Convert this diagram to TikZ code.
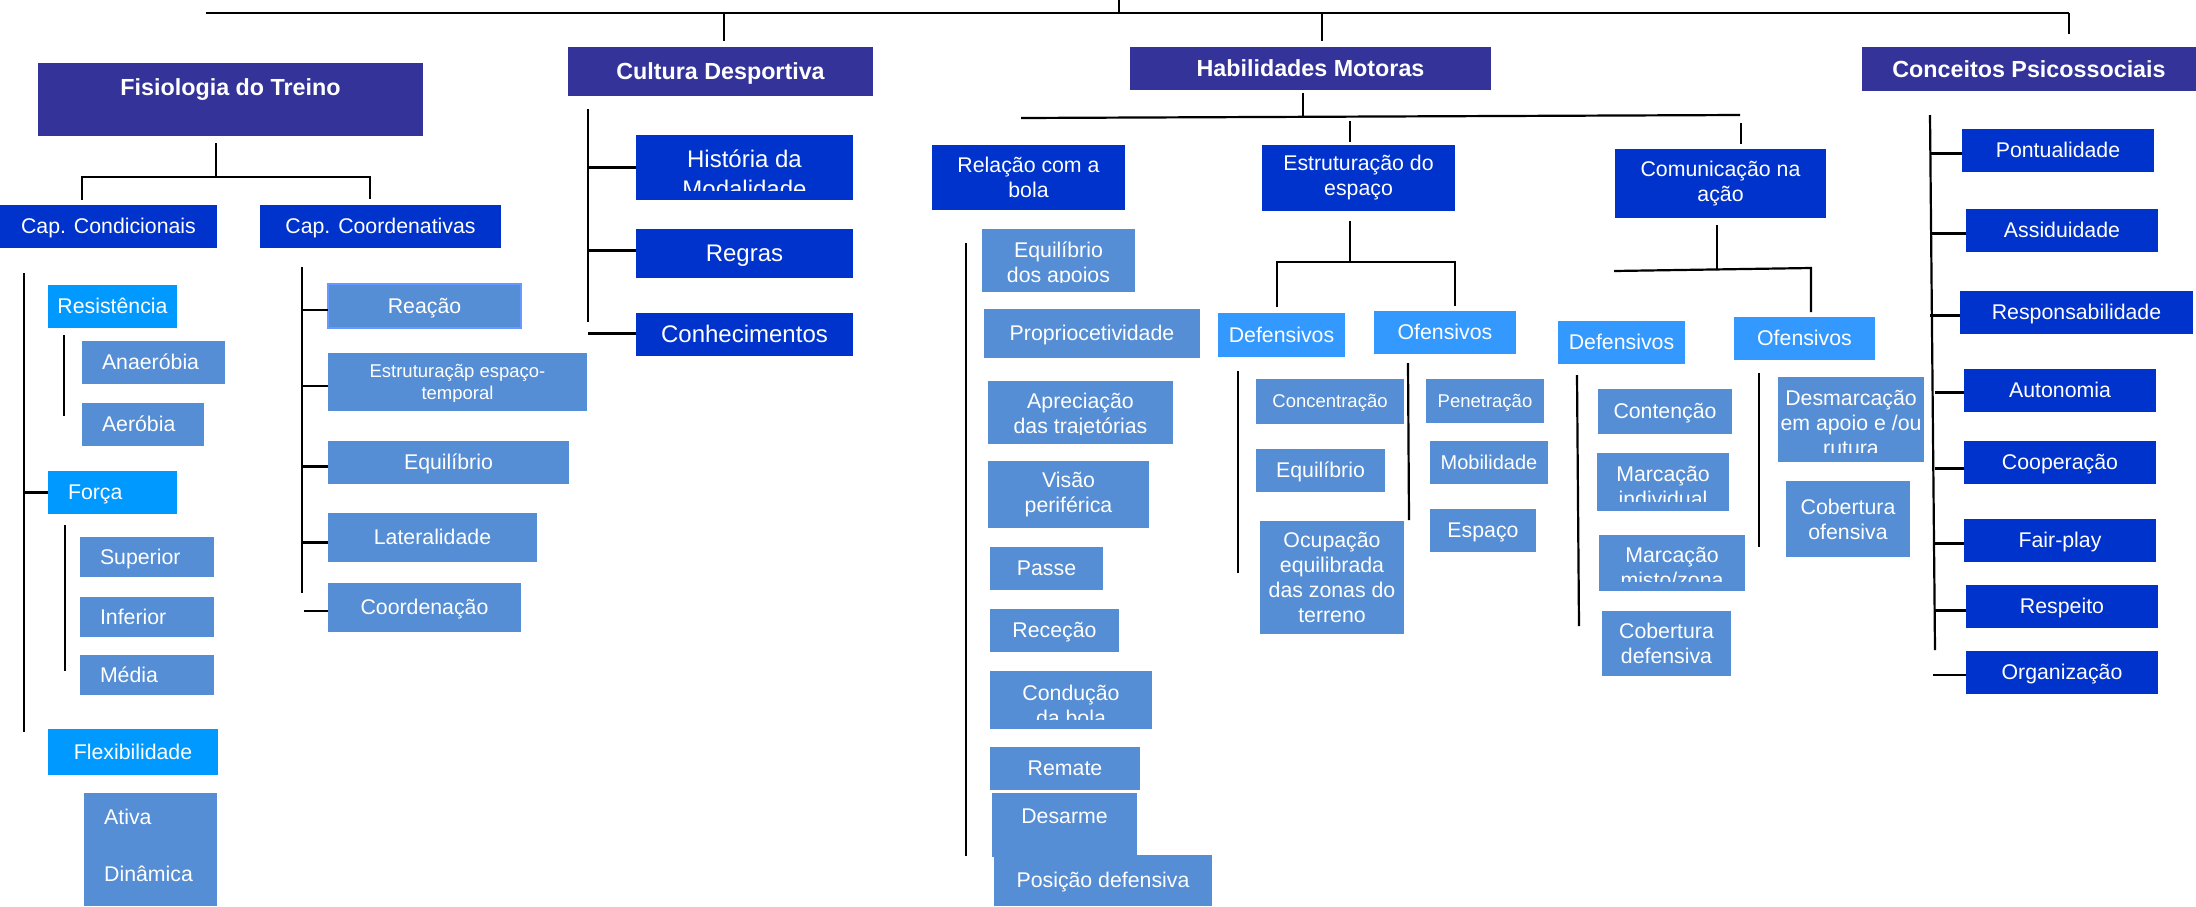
\documentclass[tikz,border=0pt]{standalone}
\usepackage{fontspec}
\setmainfont{Liberation Sans}
\definecolor{cIndigo}{RGB}{51,51,153}
\definecolor{cDark}{RGB}{0,51,204}
\definecolor{cBright}{RGB}{0,153,255}
\definecolor{cSide}{RGB}{51,153,255}
\definecolor{cLeaf}{RGB}{85,142,213}
\definecolor{cEdge}{RGB}{102,153,255}
\newcommand\myfs[2]{\fontsize{#1}{#2}\selectfont}
\newcommand\cliptext[4]{%
  \begin{scope}
    \clip (#1.north west) rectangle ([yshift=10pt]#1.south east);
    \node[ctxt, font={#2}, yshift=-#3pt] (#1-t) at (#1.center) {#4};
  \end{scope}}
\begin{document}
\begin{tikzpicture}[x=1pt,y=-1pt,
  base/.style={anchor=north west, inner sep=0pt, outer sep=0pt, text=white, align=center},
  topbox/.style={base, fill=cIndigo, font=\bfseries\myfs{23.3}{28}, text height=21pt, text depth=5pt},
  midbox/.style={base, fill=cDark, font=\myfs{21.3}{25}, text height=19.3pt, text depth=4.5pt},
  bigbox/.style={base, fill=cDark, font=\myfs{24}{30}, text height=21.7pt, text depth=5.1pt},
  brightbox/.style={base, fill=cBright, font=\myfs{21.3}{25}, text height=19.3pt, text depth=4.5pt},
  sidebox/.style={base, fill=cSide, font=\myfs{21.3}{25}, text height=19.3pt, text depth=4.5pt},
  leafbox/.style={base, fill=cLeaf, font=\myfs{21.3}{25}, text height=19.3pt, text depth=4.5pt},
  smallleaf/.style={leafbox, font=\myfs{18.5}{22}, text height=16.7pt, text depth=3.9pt},
  multi/.style={text height=, text depth=},
  padl/.style={align=left, inner xsep=20pt, text width=#1},
  ctxt/.style={inner sep=0pt, text=white, align=center},
  conn/.style={draw=black, line width=2.2pt}]
\fill[white, use as bounding box] (0,0) rectangle (2196,906);

% ---------- coordinates for connector ends ----------
\coordinate (rootL) at (206,13);
\coordinate (rootR) at (2069,13);
\coordinate (rootUp) at (1119,0);
\coordinate (rootM) at (1119,13);
\coordinate (cultA) at (724,13);   \coordinate (cultB) at (724,41);
\coordinate (habA) at (1322,13);   \coordinate (habB) at (1322,41);
\coordinate (concB) at (2069,34);
\coordinate (fisB) at (216,143);   \coordinate (fisJ) at (216,177);
\coordinate (fisL) at (82,200);    \coordinate (fisR) at (370,199);
\coordinate (ccT) at (24,273);     \coordinate (ccB) at (24,732);
\coordinate (resT) at (64,335);    \coordinate (resB) at (64,416);
\coordinate (forT) at (65,525);    \coordinate (forB) at (65,671);
\coordinate (coT) at (302,267);    \coordinate (coB) at (302,593);
\coordinate (coX) at (304,611);
\coordinate (cuT) at (588,109);    \coordinate (cuB) at (588,322);
\coordinate (hbT) at (1303,93);    \coordinate (hbJ) at (1303,117);
\coordinate (hbL) at (1021,118);   \coordinate (hbR) at (1740,115);
\coordinate (hbE1) at (1350,121);  \coordinate (hbE2) at (1350,142);
\coordinate (hbC1) at (1741,123);  \coordinate (hbC2) at (1741,144);
\coordinate (esT) at (1350,221);   \coordinate (esJ) at (1350,262);
\coordinate (esL) at (1277,307);   \coordinate (esR) at (1455,306);
\coordinate (cmT) at (1717,225);   \coordinate (cmJ) at (1717,269);
\coordinate (cmL) at (1614,271);   \coordinate (cmR) at (1811,268);
\coordinate (cmR2) at (1811,312);
\coordinate (rlT) at (966,243);    \coordinate (rlB) at (966,856);
\coordinate (edT) at (1238,371);   \coordinate (edB) at (1238,573);
\coordinate (eoT) at (1408,363);   \coordinate (eoB) at (1409,520);
\coordinate (cdT) at (1577,375);   \coordinate (cdB) at (1579,626);
\coordinate (coOT) at (1759,373);  \coordinate (coOB) at (1759,547);
\coordinate (cpT) at (1930,115);   \coordinate (cpB) at (1935,650);
\coordinate (cpX) at (1933,675);

% ---------- nodes ----------
\node[topbox, minimum width=385pt, minimum height=73pt, text height=17pt, text depth=25pt] (fis) at (38,63) {Fisiologia do Treino};
\node[topbox, minimum width=305pt, minimum height=49pt] (cult) at (568,47) {Cultura Desportiva};
\node[topbox, minimum width=361pt, minimum height=43pt] (hab) at (1130,47) {Habilidades Motoras};
\node[topbox, minimum width=334pt, minimum height=44pt] (conc) at (1862,47) {Conceitos Psicossociais};

\node[midbox, minimum width=217pt, minimum height=43pt] (capc) at (0,205) {Cap. Condicionais};
\node[midbox, minimum width=241pt, minimum height=43pt] (capo) at (260,205) {Cap. Coordenativas};
\node[bigbox, minimum width=217pt, minimum height=65pt] (hist) at (636,135) {};
\node[bigbox, minimum width=217pt, minimum height=49pt] (regras) at (636,229) {Regras};
\node[bigbox, minimum width=217pt, minimum height=43pt] (conhec) at (636,313) {Conhecimentos};
\node[midbox, multi, minimum width=193pt, minimum height=65pt] (rel) at (932,145) {Relação com a\\bola};
\node[midbox, multi, minimum width=193pt, minimum height=66pt] (estr) at (1262,145) {Estruturação do\\espaço};
\node[midbox, multi, minimum width=211pt, minimum height=69pt] (com) at (1615,149) {Comunicação na\\ação};

\node[midbox, minimum width=192pt, minimum height=43pt] (pont) at (1962,129) {Pontualidade};
\node[midbox, minimum width=192pt, minimum height=43pt] (assi) at (1966,209) {Assiduidade};
\node[midbox, minimum width=233pt, minimum height=43pt] (resp) at (1960,291) {Responsabilidade};
\node[midbox, minimum width=192pt, minimum height=43pt] (auto) at (1964,369) {Autonomia};
\node[midbox, minimum width=192pt, minimum height=43pt] (coop) at (1964,441) {Cooperação};
\node[midbox, minimum width=192pt, minimum height=43pt] (fair) at (1964,519) {Fair-play};
\node[midbox, minimum width=192pt, minimum height=43pt] (resq) at (1966,585) {Respeito};
\node[midbox, minimum width=192pt, minimum height=43pt] (org) at (1966,651) {Organização};

\node[brightbox, minimum width=129pt, minimum height=43pt] (res) at (48,285) {Resistência};
\node[brightbox, minimum height=43pt, padl=89pt] (forca) at (48,471) {Força};
\node[brightbox, minimum width=170pt, minimum height=46pt] (flex) at (48,729) {Flexibilidade};

\node[sidebox, minimum width=127pt, minimum height=44pt] (edef) at (1218,313) {Defensivos};
\node[sidebox, minimum width=142pt, minimum height=43pt] (eof) at (1374,311) {Ofensivos};
\node[sidebox, minimum width=127pt, minimum height=43pt] (cdef) at (1558,321) {Defensivos};
\node[sidebox, minimum width=141pt, minimum height=43pt] (cof) at (1734,317) {Ofensivos};

\node[leafbox, minimum height=43pt, padl=103pt] (anae) at (82,341) {Anaeróbia};
\node[leafbox, minimum height=43pt, padl=82pt] (aero) at (82,403) {Aeróbia};
\node[leafbox, minimum height=40pt, padl=94pt] (sup) at (80,537) {Superior};
\node[leafbox, minimum height=40pt, padl=94pt] (inf) at (80,597) {Inferior};
\node[leafbox, minimum height=40pt, padl=94pt] (med) at (80,655) {Média};
\node[leafbox, minimum width=133pt, minimum height=113pt] (ativ) at (84,793) {};
\node[ctxt, anchor=north west, align=left, font=\myfs{21.3}{25}] (ativ-t) at ([xshift=20pt, yshift=-15.4pt]ativ.north west) {Ativa\\[32pt]Dinâmica};

\node[leafbox, minimum width=193pt, minimum height=44pt, draw=cEdge, line width=2pt] (reac) at (328,284) {Reação};
\node[smallleaf, minimum width=259pt, minimum height=58pt] (estc) at (328,353) {};
\node[leafbox, minimum width=241pt, minimum height=43pt] (equi) at (328,441) {Equilíbrio};
\node[leafbox, minimum width=209pt, minimum height=49pt] (lat) at (328,513) {Lateralidade};
\node[leafbox, minimum width=193pt, minimum height=49pt] (coord) at (328,583) {Coordenação};

\node[leafbox, minimum width=153pt, minimum height=63pt] (eqa) at (982,229) {};
\node[leafbox, minimum width=216pt, minimum height=49pt] (prop) at (984,309) {Propriocetividade};
\node[leafbox, minimum width=185pt, minimum height=63pt] (apr) at (988,381) {};
\node[leafbox, multi, minimum width=161pt, minimum height=67pt] (vis) at (988,461) {Visão\\periférica};
\node[leafbox, minimum width=113pt, minimum height=43pt] (passe) at (990,547) {Passe};
\node[leafbox, minimum width=129pt, minimum height=43pt] (rece) at (990,609) {Receção};
\node[leafbox, minimum width=162pt, minimum height=58pt] (cond) at (990,671) {};
\node[leafbox, minimum width=150pt, minimum height=43pt] (rem) at (990,747) {Remate};
\node[leafbox, minimum width=145pt, minimum height=64pt, text height=16pt, text depth=19pt] (des) at (992,793) {Desarme};
\node[leafbox, minimum width=218pt, minimum height=51pt] (pos) at (994,855) {Posição defensiva};

\node[smallleaf, minimum width=148pt, minimum height=45pt] (concent) at (1256,379) {Concentração};
\node[leafbox, minimum width=129pt, minimum height=43pt] (eeq) at (1256,449) {Equilíbrio};
\node[leafbox, multi, minimum width=144pt, minimum height=113pt] (ocup) at (1260,521) {Ocupação\\equilibrada\\das zonas do\\terreno};
\node[smallleaf, minimum width=118pt, minimum height=44pt] (pen) at (1426,379) {Penetração};
\node[leafbox, minimum width=118pt, minimum height=43pt, font=\myfs{20}{24}, text height=18.1pt, text depth=4.2pt] (mob) at (1430,441) {Mobilidade};
\node[leafbox, minimum width=106pt, minimum height=43pt] (esp) at (1430,509) {Espaço};

\node[leafbox, minimum width=134pt, minimum height=45pt] (cont) at (1598,389) {Contenção};
\node[leafbox, minimum width=132pt, minimum height=58pt] (mind) at (1597,453) {};
\node[leafbox, minimum width=146pt, minimum height=56pt] (mmis) at (1599,535) {};
\node[leafbox, multi, minimum width=129pt, minimum height=65pt] (cobd) at (1602,611) {Cobertura\\defensiva};
\node[leafbox, minimum width=146pt, minimum height=85pt] (desm) at (1778,377) {};
\node[leafbox, multi, minimum width=124pt, minimum height=76pt] (cobo) at (1786,481) {Cobertura\\ofensiva};

% ---------- clipped texts ----------
\cliptext{hist}{\myfs{24}{30}}{6.5}{História da\\Modalidade}
\cliptext{estc}{\myfs{18.5}{22}}{2}{Estruturaçãp espaço-\\temporal}
\cliptext{eqa}{\myfs{21.3}{25}}{4}{Equilíbrio\\dos apoios}
\cliptext{apr}{\myfs{21.3}{25}}{3}{Apreciação\\das trajetórias}
\cliptext{cond}{\myfs{21.3}{25}}{5}{Condução\\da bola}
\cliptext{mind}{\myfs{21.3}{25}}{4}{Marcação\\individual}
\cliptext{mmis}{\myfs{21.3}{25}}{4.5}{Marcação\\misto/zona}
\cliptext{desm}{\myfs{21.3}{25}}{3.5}{Desmarcação\\em apoio e /ou\\rutura}

% ---------- connectors ----------
\draw[conn] (rootL) -- (rootR);
\draw[conn] (rootM) -- (rootUp);
\draw[conn] (cultA) -- (cultB);
\draw[conn] (habA) -- (habB);
\draw[conn] (rootR) -- (concB);

\draw[conn] (fisB) -- (fisJ);
\draw[conn] (fisL) -- (fisL |- fisJ) -- (fisR |- fisJ) -- (fisR);
\draw[conn] (ccT) -- (ccB);
\draw[conn] (forca.west -| ccT) -- (forca.west);
\draw[conn] (resT) -- (resB);
\draw[conn] (forT) -- (forB);

\draw[conn] (coT) -- (coB);
\draw[conn] ([yshift=-4pt]reac.west -| coT) -- ([yshift=-4pt]reac.west);
\draw[conn] ([yshift=-4pt]estc.west -| coT) -- ([yshift=-4pt]estc.west);
\draw[conn] ([yshift=-4pt]equi.west -| coT) -- ([yshift=-4pt]equi.west);
\draw[conn] ([yshift=-5pt]lat.west -| coT) -- ([yshift=-5pt]lat.west);
\draw[conn] (coX) -- (coX -| coord.west);

\draw[conn] (cuT) -- (cuB);
\draw[conn] (hist.west -| cuT) -- (hist.west);
\draw[conn] ([yshift=3pt]regras.west -| cuT) -- ([yshift=3pt]regras.west);
\draw[conn] ([yshift=1pt]conhec.west -| cuT) -- ([yshift=1pt]conhec.west);

\draw[conn] (hbT) -- (hbJ);
\draw[conn] (hbL) -- (hbR);
\draw[conn] (hbE1) -- (hbE2);
\draw[conn] (hbC1) -- (hbC2);

\draw[conn] (esT) -- (esJ);
\draw[conn] (esL) -- (esL |- esJ) -- (esR |- esJ) -- (esR);
\draw[conn] (cmT) -- (cmJ);
\draw[conn] (cmL) -- (cmR) -- (cmR2);

\draw[conn] (rlT) -- (rlB);
\draw[conn] (edT) -- (edB);
\draw[conn] (eoT) -- (eoB);
\draw[conn] (cdT) -- (cdB);
\draw[conn] (coOT) -- (coOB);

\draw[conn] (cpT) -- (cpB);
\draw[conn] ([yshift=-3pt]pont.west -| cpT) -- ([yshift=-3pt]pont.west);
\draw[conn] ([yshift=-3pt]assi.west -| cpT) -- ([yshift=-3pt]assi.west);
\draw[conn] ([yshift=-3pt]resp.west -| cpT) -- ([yshift=-3pt]resp.west);
\draw[conn] ([yshift=-2pt]auto.west -| cpB) -- ([yshift=-2pt]auto.west);
\draw[conn] ([yshift=-6pt]coop.west -| cpB) -- ([yshift=-6pt]coop.west);
\draw[conn] ([yshift=-3pt]fair.west -| cpB) -- ([yshift=-3pt]fair.west);
\draw[conn] ([yshift=-4pt]resq.west -| cpB) -- ([yshift=-4pt]resq.west);
\draw[conn] (cpX) -- (cpX -| org.west);
\end{tikzpicture}
\end{document}
